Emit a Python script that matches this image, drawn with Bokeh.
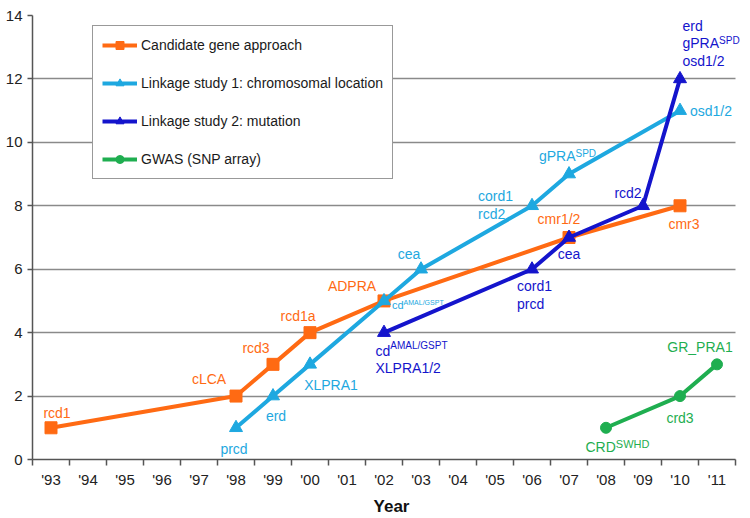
from bokeh.plotting import figure
from bokeh.models import Range1d, FixedTicker, Legend, LegendItem, Label
from bokeh.embed import file_html
from bokeh.resources import INLINE

# ---------------- data ----------------
years = ["'93", "'94", "'95", "'96", "'97", "'98", "'99", "'00", "'01", "'02",
         "'03", "'04", "'05", "'06", "'07", "'08", "'09", "'10", "'11"]
y_ticks = [0, 2, 4, 6, 8, 10, 12, 14]

series_names = ["Candidate gene approach",
                "Linkage study 1: chromosomal location",
                "Linkage study 2: mutation",
                "GWAS (SNP array)"]

cand_years = ["'93", "'98", "'99", "'00", "'02", "'07", "'10"]
cand_values = [1, 2, 3, 4, 5, 7, 8]
cand_labels = ["rcd1", "cLCA", "rcd3", "rcd1a", "ADPRA", "cmr1/2", "cmr3"]

link1_years = ["'98", "'99", "'00", "'02", "'03", "'06", "'07", "'10"]
link1_values = [1, 2, 3, 5, 6, 8, 9, 11]
link1_labels = ["prcd", "erd", "XLPRA1", "cd^AMAL/GSPT", "cea", "cord1\nrcd2",
                "gPRA^SPD", "osd1/2"]

link2_years = ["'02", "'06", "'07", "'09", "'10"]
link2_values = [4, 6, 7, 8, 12]
link2_labels = ["cd^AMAL/GSPT\nXLPRA1/2", "cord1\nprcd", "cea", "rcd2",
                "erd\ngPRA^SPD\nosd1/2"]

gwas_years = ["'08", "'10", "'11"]
gwas_values = [1, 2, 3]
gwas_labels = ["CRD^SWHD", "crd3", "GR_PRA1"]

# ---------------- style ----------------
FONT = "Liberation Sans"
colors = ["#FF6A13", "#1EA8E0", "#1414CC", "#1FAE50"]
markers = ["square", "triangle", "triangle", "circle"]
msizes = [12, 13, 13, 11]

# label placement: (align, dx, dy, size, line_gap, sup_size, sup_raise)  [screen px, dy down]
cand_place = [("center", 6, -15, 14, 17, 10, -4), ("center", -27, -17, 14, 17, 10, -4),
              ("center", -17, -16, 14, 17, 10, -4), ("center", -12, -17, 14, 17, 10, -4),
              ("center", -32, -15, 14, 17, 10, -4), ("center", -10, -19, 14, 17, 10, -4),
              ("center", 4, 18, 14, 17, 10, -4)]
link1_place = [("center", -2, 21, 14, 17, 10, -4), ("center", 3, 20, 14, 17, 10, -4),
               ("center", 21, 21, 14, 17, 10, -4), ("left", 8, 4, 11, 17, 7, -2.5),
               ("center", -12, -15, 14, 17, 10, -4), ("left", -54, -10, 14, 18, 10, -4),
               ("center", -1.5, -18, 14, 17, 10, -3), ("left", 10, 0, 14, 17, 10, -4)]
link2_place = [("left", -8.5, 18, 14, 17, 10, -5), ("left", -15, 17, 14, 18, 10, -4),
               ("center", 0, 16, 14, 17, 10, -4), ("center", -15, -13, 14, 17, 10, -4),
               ("left", 2.5, -53, 14, 17.5, 10, -3)]
gwas_place = [("left", -20.5, 19.5, 14, 17, 11, -3.5), ("center", 0, 22, 14, 17, 10, -4),
              ("center", -17, -17, 14, 17, 10, -4)]

AW = {
    'a': 556, 'b': 556, 'c': 500, 'd': 556, 'e': 556, 'f': 278, 'g': 556, 'h': 556,
    'i': 222, 'j': 222, 'k': 500, 'l': 222, 'm': 833, 'n': 556, 'o': 556, 'p': 556,
    'q': 556, 'r': 333, 's': 500, 't': 278, 'u': 556, 'v': 500, 'w': 722, 'x': 500,
    'y': 500, 'z': 500, 'A': 667, 'B': 667, 'C': 722, 'D': 722, 'E': 667, 'F': 611,
    'G': 778, 'H': 722, 'I': 278, 'J': 500, 'K': 667, 'L': 556, 'M': 833, 'N': 722,
    'O': 778, 'P': 667, 'Q': 778, 'R': 722, 'S': 667, 'T': 611, 'U': 722, 'V': 667,
    'W': 944, 'X': 667, 'Y': 667, 'Z': 611, '/': 278, '_': 556, ' ': 278,
}


def tw(s, size):
    return sum(AW.get(ch, 556) for ch in s) * size / 1000.0


W, H = 750, 518
LEFT, TOP, BOTTOM = 32, 15, 59
YEAR_PX = 37.0  # width of one year slot on screen
x_end = -0.5 + (W - LEFT) / YEAR_PX   # frame extends to the right edge; axis is bounded

p = figure(width=W, height=H, output_backend="svg", toolbar_location=None,
           x_range=Range1d(-0.5, x_end), y_range=Range1d(0, 14),
           min_border_left=LEFT, min_border_top=TOP, min_border_right=0,
           min_border_bottom=BOTTOM,
           background_fill_color="white", border_fill_color="white")
p.outline_line_color = None
p.xgrid.visible = False
p.ygrid.ticker = FixedTicker(ticks=[t for t in y_ticks if 0 < t < 14])
p.ygrid.grid_line_color = "#8a8a8a"
p.ygrid.grid_line_width = 1.5
try:
    p.ygrid.cross_bounds = (-0.5, len(years) - 0.5)
except Exception:
    pass

# x axis
xa = p.xaxis[0]
xa.bounds = (-0.5, len(years) - 0.5)
xa.ticker = FixedTicker(ticks=list(range(len(years))),
                        minor_ticks=[i - 0.5 for i in range(len(years) + 1)])
xa.major_label_overrides = {i: years[i] for i in range(len(years))}
xa.major_tick_line_color = None
xa.major_tick_out = 6
xa.major_tick_in = 0
xa.minor_tick_out = 6
xa.minor_tick_in = 0
xa.minor_tick_line_color = "#555555"
xa.minor_tick_line_width = 1.5
xa.axis_line_color = "#555555"
xa.axis_line_width = 1.5
xa.major_label_standoff = 5
xa.major_label_text_font = FONT
xa.major_label_text_font_size = "15px"
xa.major_label_text_color = "#222222"
xa.axis_label = "Year"
xa.axis_label_text_font = FONT
xa.axis_label_text_font_size = "17px"
xa.axis_label_text_font_style = "bold"
xa.axis_label_text_color = "#111111"
xa.axis_label_standoff = 6

ya = p.yaxis[0]
ya.ticker = FixedTicker(ticks=y_ticks)
ya.minor_tick_line_color = None
ya.major_tick_out = 5
ya.major_tick_in = 0
ya.major_tick_line_color = "#555555"
ya.major_tick_line_width = 1.5
ya.axis_line_color = "#555555"
ya.axis_line_width = 1.5
ya.major_label_standoff = 5
ya.major_label_text_font = FONT
ya.major_label_text_font_size = "15px"
ya.major_label_text_color = "#222222"


def add_text(x, y, txt, dx, dy, size, color):
    p.add_layout(Label(x=x, y=y, text=txt, x_offset=dx, y_offset=-dy,
                       text_align="left", text_baseline="middle", text_font=FONT,
                       text_font_size=f"{size}px", text_color=color))


def draw_label(x, y, text, color, place):
    align, dx, dy, size, gap, ssize, sraise = place
    for k, line in enumerate(text.split("\n")):
        main, _, sup = line.partition("^")
        total = tw(main, size) + (tw(sup, ssize) if sup else 0)
        if align == "left":
            x0 = dx
        elif align == "center":
            x0 = dx - total / 2.0
        else:
            x0 = dx - total
        yy = dy + k * gap
        add_text(x, y, main, x0, yy, size, color)
        if sup:
            add_text(x, y, sup, x0 + tw(main, size), yy + sraise, ssize, color)


series = [(cand_years, cand_values, cand_labels, cand_place),
          (link1_years, link1_values, link1_labels, link1_place),
          (link2_years, link2_values, link2_labels, link2_place),
          (gwas_years, gwas_values, gwas_labels, gwas_place)]

items = []
for i, (yrs, vals, labs, places) in enumerate(series):
    xs = [years.index(y) for y in yrs]
    rl = p.line(xs, vals, line_color=colors[i], line_width=4)
    rs = p.scatter(xs, vals, marker=markers[i], size=msizes[i],
                   fill_color=colors[i], line_color=colors[i])
    items.append(LegendItem(label=series_names[i], renderers=[rl, rs]))

for i, (yrs, vals, labs, places) in enumerate(series):
    for yr, v, lab, pl in zip(yrs, vals, labs, places):
        draw_label(years.index(yr), v, lab, colors[i], pl)

legend = Legend(items=items, location=(60, 280))
legend.label_text_font = FONT
legend.label_text_font_size = "14px"
legend.label_text_color = "#1a1a1a"
legend.glyph_width = 35
legend.glyph_height = 20
legend.label_height = 20
legend.label_standoff = 4
legend.spacing = 18
legend.padding = 9
legend.margin = 0
legend.border_line_color = "#333333"
legend.border_line_width = 1
legend.background_fill_color = "white"
legend.background_fill_alpha = 1.0
p.add_layout(legend)

open("out.html", "w").write(file_html(p, INLINE))
